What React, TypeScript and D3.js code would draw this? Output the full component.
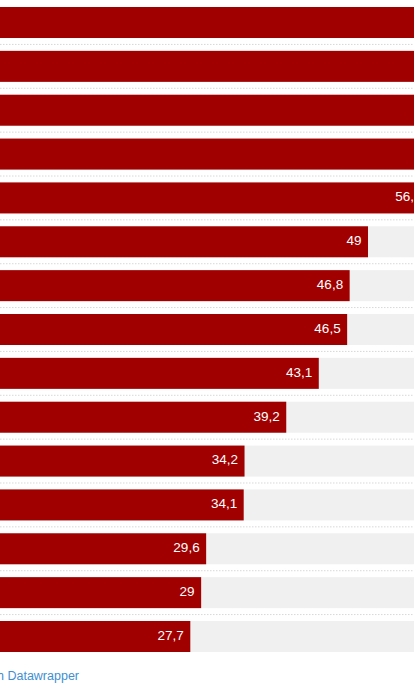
import React, { useEffect, useRef } from "react";
import * as d3 from "d3";

// Row values, top to bottom (decimal comma in labels)
const rows = ["r1", "r2", "r3", "r4", "r5", "r6", "r7", "r8", "r9", "r10", "r11", "r12", "r13", "r14", "r15"];
const values = [80.0, 72.4, 65.9, 60.3, 56.2, 49, 46.8, 46.5, 43.1, 39.2, 34.2, 34.1, 29.6, 29, 27.7];
const footerText = "Created with Datawrapper";

const WIDTH = 414;
const HEIGHT = 690;
const BAR_COLOR = "#a00000";
const TRACK_COLOR = "#f0f0f0";
const FONT = "'Liberation Sans', Arial, Helvetica, sans-serif";

export default function App() {
  const ref = useRef<SVGSVGElement | null>(null);

  useEffect(() => {
    const svg = d3.select(ref.current);
    svg.selectAll("*").remove();

    const maxVal = d3.max(values) as number;
    const pxPerUnit = 8.343;
    const x = d3.scaleLinear().domain([0, maxVal]).range([-40.8, -40.8 + maxVal * pxPerUnit]);
    const y = d3
      .scaleBand<string>()
      .domain(rows)
      .range([7, 652])
      .paddingInner(0.293)
      .paddingOuter(0);

    const fmt = (v: number) => d3.format(",")(v).replace(".", ",");

    const g = svg.append("g");

    // dotted row separators
    const gap = y.step() - y.bandwidth();
    g.selectAll("line.sep")
      .data(rows.slice(0, -1))
      .join("line")
      .attr("class", "sep")
      .attr("x1", 0)
      .attr("x2", WIDTH)
      .attr("y1", (d) => (y(d) as number) + y.bandwidth() + gap / 2)
      .attr("y2", (d) => (y(d) as number) + y.bandwidth() + gap / 2)
      .attr("stroke", "#d8d8d8")
      .attr("stroke-width", 1)
      .attr("stroke-dasharray", "1.5,1.5");

    // background tracks
    g.selectAll("rect.track")
      .data(rows)
      .join("rect")
      .attr("class", "track")
      .attr("x", x(0))
      .attr("y", (d) => y(d) as number)
      .attr("width", x(maxVal) - x(0))
      .attr("height", y.bandwidth())
      .attr("fill", TRACK_COLOR);

    // value bars
    g.selectAll("rect.bar")
      .data(values)
      .join("rect")
      .attr("class", "bar")
      .attr("x", x(0))
      .attr("y", (_d, i) => y(rows[i]) as number)
      .attr("width", (d) => x(d) - x(0))
      .attr("height", y.bandwidth())
      .attr("fill", BAR_COLOR);

    // value labels inside bar ends
    g.selectAll("text.val")
      .data(values)
      .join("text")
      .attr("class", "val")
      .attr("x", (d) => x(d) - 6.5)
      .attr("y", (_d, i) => (y(rows[i]) as number) + y.bandwidth() / 2)
      .attr("dy", "0.25em")
      .attr("text-anchor", "end")
      .attr("fill", "#ffffff")
      .attr("font-family", FONT)
      .attr("font-size", 13.5)
      .text((d) => fmt(d));

    // footer
    svg
      .append("text")
      .attr("x", 79)
      .attr("y", 679.5)
      .attr("text-anchor", "end")
      .attr("fill", "#3f8fd2")
      .attr("font-family", FONT)
      .attr("font-size", 12.5)
      .text(footerText);
  }, []);

  return (
    <svg
      ref={ref}
      width={WIDTH}
      height={HEIGHT}
      style={{ position: "absolute", left: 0, top: 0, background: "#ffffff" }}
    />
  );
}
